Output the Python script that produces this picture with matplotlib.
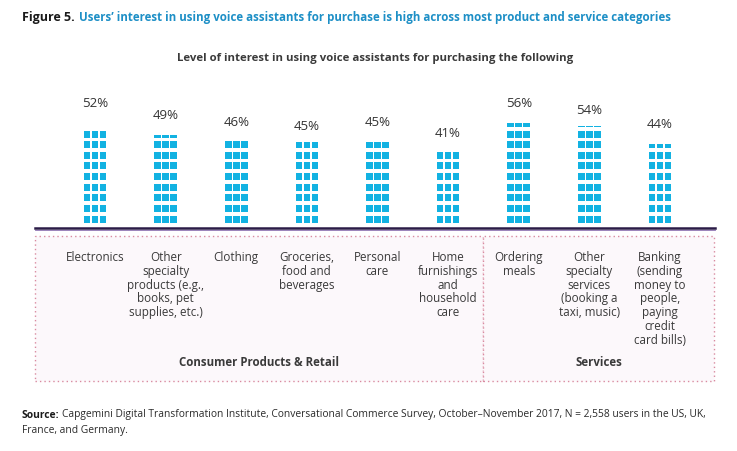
import numpy as np
import matplotlib
matplotlib.use('Agg')
from matplotlib import pyplot as plt
from matplotlib.patches import Rectangle
import matplotlib.transforms as mtransforms

# Data
categories = ['Electronics',
              'Other\nspecialty\nproducts (e.g.,\nbooks, pet\nsupplies, etc.)',
              'Clothing',
              'Groceries,\nfood and\nbeverages',
              'Personal\ncare',
              'Home\nfurnishings\nand\nhousehold\ncare',
              'Ordering\nmeals',
              'Other\nspecialty\nservices\n(booking a\ntaxi, music)',
              'Banking\n(sending\nmoney to\npeople,\npaying\ncredit\ncard bills)']
values = [52, 49, 46, 45, 45, 41, 56, 54, 44]
label_nudge = [5, 1, 0, -1, 1, -1, 0.5, -1, 1]  # labels are hand-placed in the original
groups = ['Consumer Products & Retail', 'Services']

W, H = 737, 451
plt.rcParams['font.family'] = ['Open Sans', 'DejaVu Sans']
fig = plt.figure(figsize=(W / 100, H / 100), dpi=100)
renderer = fig.canvas.get_renderer()

def fx(px):
    return px / W

def fy(py):
    return 1 - py / H

def text_after(first, gap_px, *args, **kw):
    # place a text right after another one, on the same line
    bb = first.get_window_extent(renderer)
    return fig.text((bb.x1 + gap_px) / W, *args, **kw)

# main axes: baseline at y=228.5px, x from 35 to 715px
ax = fig.add_axes([fx(35), fy(228.5), fx(715) - fx(35), fy(90) - fy(228.5)])
ax.set_xlim(-0.85, 8.78)
ax.set_ylim(-3.84, 74.4)
ax.axis('off')

# bars as stacks of small squares (rows of 3)
sq_color = '#12b2e2'
step, sq_h, off = 6.0, 4.0, -0.5
vals = np.array(values, dtype=float)
x = np.arange(len(values))
n_rows = int(np.ceil(vals.max() / step)) + 1
for r in range(n_rows):
    bottom = r * step + off
    h = np.clip(vals - bottom, 0, sq_h)
    for dx in (-0.113, 0, 0.113):
        ax.bar(x + dx, h, width=0.094, bottom=bottom, color=sq_color, linewidth=0)

for xi, v, nd in zip(x, values, label_nudge):
    ax.text(xi, v + 10 + nd, f'{v}%', ha='center', va='center', fontsize=9.5, color='#333333')

# baseline
fig.add_artist(plt.Line2D([fx(35), fx(715)], [fy(228.3), fy(228.3)], color='#2a1b47', lw=1.8))
fig.add_artist(plt.Line2D([fx(35), fx(715)], [fy(229.6), fy(229.6)], color='#8a6fb0', lw=0.6))

# group boxes
box_top, box_bot = 236, 381
edges = [35, 483, 714]
border = '#d98aa0'
for i, g in enumerate(groups):
    x0, x1 = edges[i], edges[i + 1]
    rect = Rectangle((fx(x0), fy(box_bot)), fx(x1) - fx(x0), fy(box_top) - fy(box_bot),
                     transform=fig.transFigure, facecolor='#fcf8fb', edgecolor=border,
                     linestyle=(0, (1, 2.2)), linewidth=1.0, zorder=0)
    fig.add_artist(rect)
    fig.text(fx((x0 + x1) / 2), fy(363), g, ha='center', va='center', fontsize=8.3,
             fontweight='bold', color='#3a3a3a')

# category labels
trans = mtransforms.blended_transform_factory(ax.transData, fig.transFigure)
for xi, c in zip(x, categories):
    ax.text(xi, fy(251), c, transform=trans, ha='center', va='top', fontsize=8.4,
            color='#3a3a3a', linespacing=1.08, clip_on=False)

# titles
t1 = fig.text(fx(22), fy(17), 'Figure 5.', ha='left', va='center', fontsize=9,
              fontweight='bold', color='#1a1a1a')
text_after(t1, 4, fy(17), 'Users\u2019 interest in using voice assistants for purchase is high across most product and service categories',
           ha='left', va='center', fontsize=8.3, fontweight='bold', color='#1d8fc6')
fig.text(fx(375), fy(59), 'Level of interest in using voice assistants for purchasing the following',
         ha='center', va='center', fontsize=8.2, fontweight='bold', color='#3a3a3a')

# source
s1 = fig.text(fx(22), fy(415), 'Source:', ha='left', va='center', fontsize=7.4,
              fontweight='bold', color='#1a1a1a')
text_after(s1, 2, fy(415), 'Capgemini Digital Transformation Institute, Conversational Commerce Survey, October\u2013November 2017, N = 2,558 users in the US, UK,',
           ha='left', va='center', fontsize=7.4, color='#2a2a2a')
fig.text(fx(22), fy(431), 'France, and Germany.', ha='left', va='center', fontsize=7.4, color='#2a2a2a')

fig.savefig('out.png', dpi=100)
